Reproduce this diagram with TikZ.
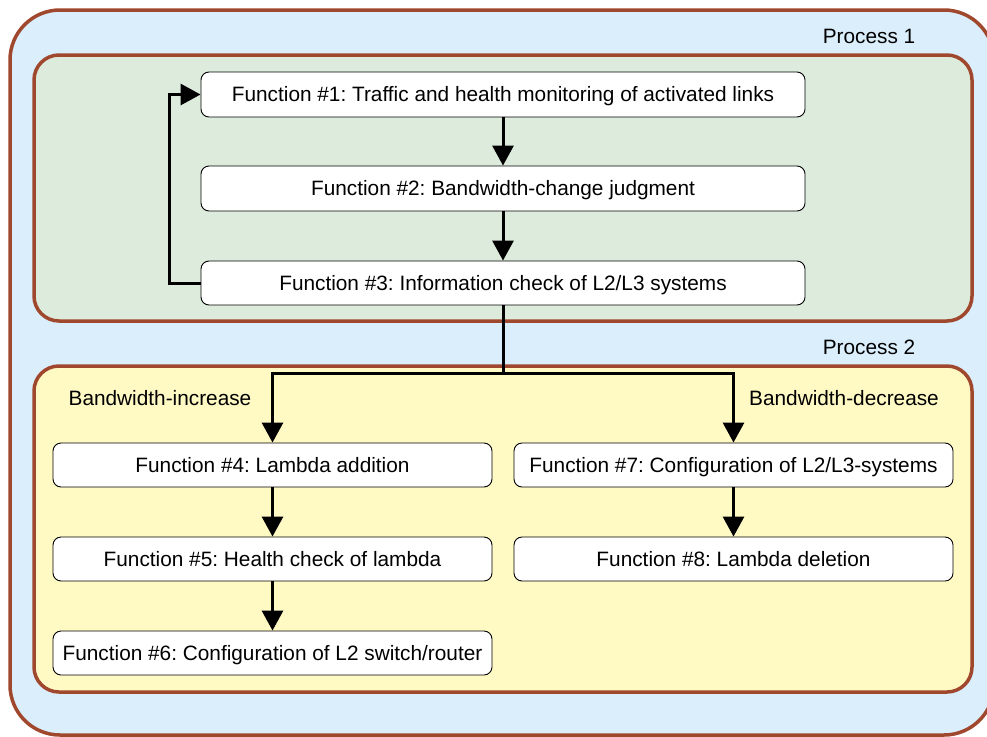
\documentclass[tikz,border=0pt]{standalone}
\usepackage{fontspec}
\setmainfont{Liberation Sans}
\frenchspacing
\usetikzlibrary{arrows.meta,positioning}
\definecolor{brd}{RGB}{160,72,45}
\definecolor{outerfill}{RGB}{219,238,252}
\definecolor{greenfill}{RGB}{221,235,221}
\definecolor{yellowfill}{RGB}{255,249,196}
\tikzset{
  container/.style={draw=brd, line width=3.5pt, inner sep=0pt},
  fbox/.style={draw=black, line width=0.9pt, fill=white, rounded corners=8pt, inner sep=0pt, text height=14.9pt, text depth=0pt, font=\fontsize{20.8}{23}\selectfont},
  lbl/.style={inner sep=0pt, text height=14.9pt, text depth=0pt, font=\fontsize{20.8}{23}\selectfont},
  arr/.style={line width=3pt, -{Triangle[length=20pt,width=21pt]}},
}
\begin{document}
\begin{tikzpicture}[x=1pt,y=-1pt]
\clip (0,0) rectangle (987,736);
\fill[white] (0,0) rectangle (987,736);
\node[container, fill=outerfill, rounded corners=50pt, minimum width=984pt, minimum height=725pt] (outer) at (502,372.5) {};
\node[container, fill=greenfill, rounded corners=25pt, minimum width=938pt, minimum height=266pt] (proc1) at (503,188) {};
\node[container, fill=yellowfill, rounded corners=25pt, minimum width=938pt, minimum height=326pt] (proc2) at (503,529) {};
\node[lbl] (p1lbl) at (869,36) {Process 1};
\node[lbl] (p2lbl) at (869,347) {Process 2};
\node[lbl] (inclbl) at (160,398) {Bandwidth-increase};
\node[lbl] (declbl) at (844,398) {Bandwidth-decrease};
\node[fbox, minimum width=604pt, minimum height=45pt] (f1) at (503,94.5) {Function \#1: Traffic and health monitoring of activated links};
\node[fbox, minimum width=604pt, minimum height=45pt] (f2) at (503,188.5) {Function \#2: Bandwidth-change judgment};
\node[fbox, minimum width=604pt, minimum height=44pt] (f3) at (503,283) {Function \#3: Information check of L2/L3 systems};
\node[fbox, minimum width=439pt, minimum height=44pt] (f4) at (272.5,465) {Function \#4: Lambda addition};
\node[fbox, minimum width=439pt, minimum height=44pt] (f5) at (272.5,559) {Function \#5: Health check of lambda};
\node[fbox, minimum width=439pt, minimum height=44pt] (f6) at (272.5,653) {Function \#6: Configuration of L2 switch/router};
\node[fbox, minimum width=439pt, minimum height=44pt] (f7) at (733.5,465) {Function \#7: Configuration of L2/L3-systems};
\node[fbox, minimum width=439pt, minimum height=44pt] (f8) at (733.5,559) {Function \#8: Lambda deletion};
\draw[arr] (f1) -- (f2);
\draw[arr] (f2) -- (f3);
\draw[arr] (f3.west) -- ++(-31,0) |- (f1.west);
\coordinate (split) at (503,373);
\draw[line width=3pt] (f3.south) -- (split);
\draw[arr] (split) -| (f4.north);
\draw[arr] (split) -| (f7.north);
\draw[arr] (f4) -- (f5);
\draw[arr] (f5) -- (f6);
\draw[arr] (f7) -- (f8);
\end{tikzpicture}
\end{document}
